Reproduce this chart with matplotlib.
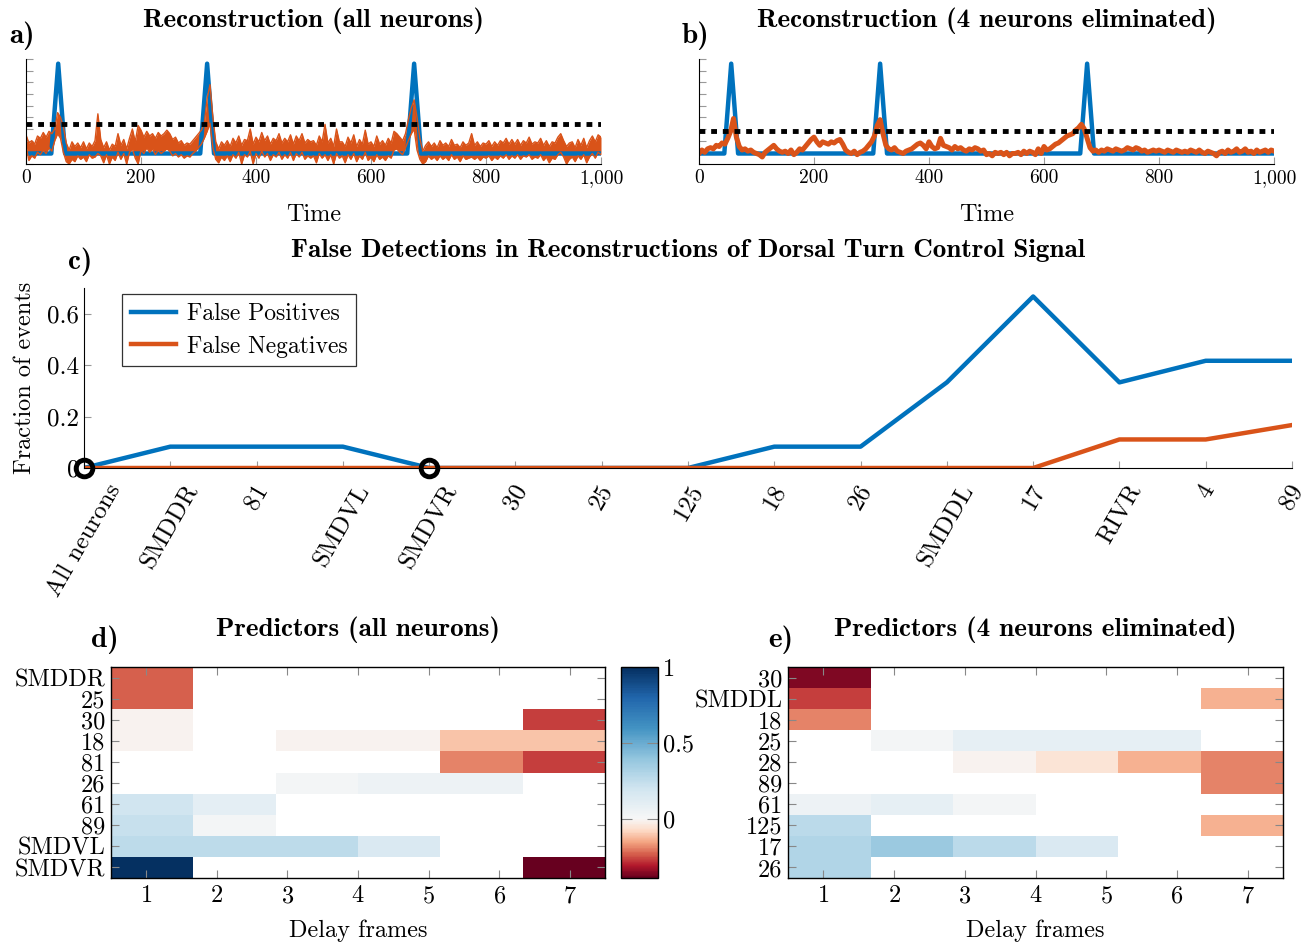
import numpy as np
import matplotlib.pyplot as plt
from matplotlib.colors import ListedColormap, Normalize
from matplotlib.ticker import FuncFormatter

plt.rcParams['font.family'] = ['cmr10', 'DejaVu Serif']
plt.rcParams['mathtext.fontset'] = 'cm'
plt.rcParams['axes.formatter.use_mathtext'] = True

BLUE = '#0072bd'
ORANGE = '#d95319'
BOLD = ['cmb10', 'DejaVu Serif']

# ---------------- data ----------------
# reference (blue) signal: baseline with three events
ref_t = [0, 44, 56, 68, 303, 315, 327, 663, 675, 687, 1000]
ref_v = [0.9, 0.9, 8.6, 0.9, 0.9, 8.6, 0.9, 0.9, 8.6, 0.9, 0.9]
thr_all = 3.45
thr_elim = 2.8

# reconstruction with all neurons: upper / lower edge of the noisy trace,
# sampled every 5 time steps (read off the picture)
rec_all_hi = [
    2.5, 1.8, 2.0, 1.7, 2.4, 2.2, 2.7, 2.3, 2.8, 2.6,
    3.0, 4.4, 4.0, 3.2, 1.8, 1.2, 1.9, 1.5, 1.8, 1.4,
    1.9, 1.3, 1.8, 1.5, 2.0, 4.3, 2.1, 1.4, 1.9, 1.2,
    1.7, 1.5, 2.6, 1.6, 2.1, 1.3, 2.2, 3.0, 1.9, 3.3,
    2.9, 2.3, 2.8, 2.4, 2.6, 2.2, 2.7, 2.4, 2.6, 2.9,
    2.6, 2.1, 2.3, 1.8, 2.0, 1.6, 1.8, 1.7, 2.0, 2.3,
    2.6, 2.9, 3.5, 5.6, 6.8, 4.0, 1.9, 1.3, 1.9, 1.6,
    2.0, 1.5, 2.2, 1.8, 2.4, 1.6, 2.1, 2.0, 3.0, 1.7,
    2.3, 1.9, 2.7, 2.0, 2.4, 1.7, 2.2, 2.0, 2.6, 1.8,
    2.2, 1.9, 2.5, 1.7, 2.4, 2.0, 2.6, 1.8, 2.1, 1.9,
    2.0, 1.6, 2.4, 1.9, 3.4, 1.8, 2.2, 1.5, 3.0, 1.9,
    1.9, 1.5, 2.3, 1.8, 2.5, 1.5, 2.1, 1.7, 2.9, 1.7,
    1.9, 1.5, 2.4, 1.7, 2.0, 1.6, 2.2, 1.8, 2.8, 2.6,
    2.3, 2.0, 2.6, 3.8, 4.8, 5.5, 4.0, 2.2, 1.1, 1.6,
    1.9, 1.5, 1.8, 1.4, 2.0, 1.6, 1.8, 1.5, 2.1, 1.6,
    1.7, 1.4, 1.9, 1.6, 1.8, 2.6, 1.6, 1.9, 1.5, 1.8,
    1.7, 2.0, 1.5, 1.9, 1.6, 2.0, 1.8, 2.2, 1.7, 2.1,
    1.7, 2.1, 1.6, 2.0, 1.8, 2.3, 1.7, 1.9, 1.8, 2.2,
    1.6, 2.0, 1.5, 1.9, 1.8, 2.3, 2.6, 2.0, 1.5, 1.8,
    1.9, 1.4, 2.1, 1.6, 2.2, 1.4, 2.0, 2.4, 1.9, 2.5,
    2.3]
rec_all_lo = [
    1.6, 0.3, 0.7, 0.5, 1.0, 0.8, 1.2, 0.9, 1.4, 1.1,
    2.0, 2.6, 2.2, 1.0, 0.2, 0.0, 0.4, 0.2, 0.7, 0.4,
    0.6, 0.2, 0.8, 0.5, 0.6, 0.9, 0.7, 0.1, 0.8, 0.0,
    0.6, 0.3, 1.0, 0.4, 0.9, 0.0, 1.0, 1.3, 0.5, 0.0,
    1.2, 0.9, 1.4, 1.0, 1.3, 0.8, 1.2, 0.9, 1.1, 1.3,
    1.1, 0.7, 0.9, 0.6, 0.8, 0.5, 0.7, 0.6, 0.9, 1.1,
    1.4, 1.7, 2.2, 2.8, 3.5, 1.4, 0.4, 0.1, 0.6, 0.3,
    0.7, 0.2, 0.8, 0.5, 1.0, 0.0, 0.8, 0.6, 1.1, 0.0,
    0.9, 0.5, 1.1, 0.6, 0.9, 0.3, 0.8, 0.6, 1.0, 0.4,
    0.8, 0.5, 1.0, 0.3, 0.9, 0.6, 1.0, 0.4, 0.7, 0.5,
    0.7, 0.1, 0.9, 0.5, 0.8, 0.3, 0.8, 0.0, 0.9, 0.5,
    0.7, 0.1, 0.8, 0.4, 0.9, 0.2, 0.7, 0.4, 1.0, 0.3,
    0.6, 0.2, 0.8, 0.4, 0.6, 0.3, 0.7, 0.5, 1.2, 1.3,
    1.0, 0.8, 1.4, 2.0, 2.6, 3.0, 1.2, 0.4, 0.0, 0.2,
    0.7, 0.4, 0.6, 0.3, 0.7, 0.4, 0.6, 0.3, 0.8, 0.4,
    0.6, 0.2, 0.7, 0.4, 0.5, 0.6, 0.4, 0.6, 0.3, 0.6,
    0.5, 0.7, 0.3, 0.6, 0.4, 0.7, 0.5, 0.8, 0.4, 0.7,
    0.5, 0.8, 0.4, 0.7, 0.6, 0.8, 0.4, 0.6, 0.5, 0.8,
    0.3, 0.6, 0.1, 0.5, 0.4, 0.8, 1.0, 0.6, 0.0, 0.4,
    0.6, 0.2, 0.7, 0.4, 0.8, 0.1, 0.6, 0.9, 0.5, 1.0,
    0.8]
# reconstruction with 4 neurons eliminated (smoother), every 5 time steps
rec_elim = [
    0.9, 1.2, 1.0, 1.3, 1.4, 1.3, 1.6, 1.5, 1.8, 1.7,
    2.2, 2.8, 3.9, 2.3, 1.5, 1.2, 1.3, 1.1, 1.2, 1.0,
    0.9, 0.8, 0.6, 1.0, 1.2, 1.4, 1.6, 1.3, 1.1, 1.0,
    1.1, 0.9, 1.2, 0.8, 1.0, 1.3, 1.2, 1.5, 1.8, 2.1,
    2.3, 1.9, 1.6, 1.9, 1.8, 1.7, 1.9, 1.8, 2.0, 2.1,
    1.7, 1.2, 1.0, 0.9, 1.1, 0.8, 1.0, 1.1, 1.3, 1.6,
    1.9, 2.4, 3.3, 3.8, 2.6, 1.6, 1.3, 1.2, 1.4, 1.1,
    1.0, 0.9, 1.1, 1.2, 1.3, 1.5, 1.7, 1.8, 1.6, 1.3,
    1.9, 1.5, 1.3, 1.4, 2.2, 1.6, 1.5, 1.4, 1.2, 1.5,
    1.3, 1.4, 1.2, 1.1, 1.3, 1.2, 1.4, 1.3, 1.1, 1.2,
    0.8, 0.9, 0.7, 1.0, 0.9, 1.0, 0.8, 1.0, 0.7, 0.9,
    0.9, 1.0, 0.8, 1.1, 0.9, 1.1, 1.0, 0.8, 1.3, 0.9,
    1.5, 1.2, 1.3, 1.5, 1.7, 1.8, 2.0, 2.2, 2.4, 2.5,
    2.6, 2.9, 3.1, 3.4, 3.0, 2.2, 1.4, 1.1, 1.2, 1.0,
    1.2, 1.1, 1.3, 1.2, 1.1, 1.3, 1.2, 1.1, 1.2, 1.4,
    1.3, 1.2, 1.4, 1.3, 1.1, 1.2, 1.0, 1.1, 1.2, 1.1,
    1.2, 1.1, 1.0, 1.2, 1.1, 1.0, 1.2, 1.1, 1.0, 1.1,
    1.0, 1.2, 1.1, 1.0, 1.2, 1.0, 0.9, 1.1, 1.0, 0.9,
    0.7, 1.0, 1.1, 0.9, 1.2, 1.0, 1.1, 1.3, 1.0, 1.1,
    1.3, 1.0, 1.1, 0.9, 1.2, 1.0, 1.1, 1.2, 1.0, 1.2,
    1.1]
rec_t = np.arange(len(rec_elim)) * 5

# false detections
removed = ['All neurons', 'SMDDR', '81', 'SMDVL', 'SMDVR', '30', '25', '125',
           '18', '26', 'SMDDL', '17', 'RIVR', '4', '89']
false_pos = [0, 0.083, 0.083, 0.083, 0, 0, 0, 0, 0.083, 0.083, 0.333, 0.667,
             0.333, 0.417, 0.417]
false_neg = [0, 0, 0, 0, 0, 0, 0, 0, 0, 0, 0, 0, 0.111, 0.111, 0.167]
marked = [0, 4]

# predictor weights (rows = neurons, cols = delay bins)
rows_all = ['SMDDR', '25', '30', '18', '81', '26', '61', '89', 'SMDVL', 'SMDVR']
w_all = np.array([
    [-0.23, 0, 0, 0, 0, 0],
    [-0.23, 0, 0, 0, 0, 0],
    [-0.01, 0, 0, 0, 0, -0.27],
    [-0.01, 0, -0.01, -0.01, -0.11, -0.11],
    [0, 0, 0, 0, -0.19, -0.27],
    [0, 0, 0.02, 0.05, 0.05, 0],
    [0.2, 0.1, 0, 0, 0, 0],
    [0.23, 0.02, 0, 0, 0, 0],
    [0.26, 0.26, 0.26, 0.15, 0, 0],
    [1.0, 0, 0, 0, 0, -0.39],
])
rows_elim = ['30', 'SMDDL', '18', '25', '28', '89', '61', '125', '17', '26']
w_elim = np.array([
    [-0.36, 0, 0, 0, 0, 0],
    [-0.27, 0, 0, 0, 0, -0.14],
    [-0.19, 0, 0, 0, 0, 0],
    [0, 0.02, 0.09, 0.09, 0.09, 0],
    [0, 0, -0.01, -0.05, -0.14, -0.19],
    [0, 0, 0, 0, 0, -0.19],
    [0.05, 0.09, 0.02, 0, 0, 0],
    [0.27, 0, 0, 0, 0, -0.14],
    [0.3, 0.37, 0.27, 0.15, 0, 0],
    [0.3, 0, 0, 0, 0, 0],
])
delays = [1, 2, 3, 4, 5, 6, 7]
vmin, vmax = -0.39, 1.0

# ---------------- figure ----------------
W, H = 1315, 943
fig = plt.figure(figsize=(W / 100, H / 100), dpi=100)


def ax_px(l, t, r, b):
    return fig.add_axes([l / W, 1 - b / H, (r - l) / W, (b - t) / H])


def label(x, y, s, **kw):
    fig.text(x / W, 1 - y / H, s, **kw)


def style(ax):
    for side in ['top', 'right']:
        ax.spines[side].set_visible(False)
    ax.tick_params(direction='in', color='#999999', length=5, labelsize=14)


TITLE = dict(fontsize=19.5, family=BOLD, ha='center', va='center')
TAG = dict(fontsize=21, family=BOLD, ha='left', va='center')

# panels a, b
for i, (l, r, thr, title, tag) in enumerate([
        (26, 601, thr_all, 'Reconstruction (all neurons)', 'a)'),
        (699, 1274, thr_elim, 'Reconstruction (4 neurons eliminated)', 'b)')]):
    ax = ax_px(l, 59, r, 164)
    ax.plot(ref_t, ref_v, color=BLUE, lw=3.2)
    if i == 0:
        ax.fill_between(rec_t, rec_all_lo, rec_all_hi, color=ORANGE, lw=0)
        ax.plot(rec_t, rec_all_hi, color=ORANGE, lw=1.0)
        ax.plot(rec_t, rec_all_lo, color=ORANGE, lw=1.0)
    else:
        ax.plot(rec_t, rec_elim, color=ORANGE, lw=3.6)
    ax.axhline(thr, color='black', lw=3.5, ls=(0, (1.2, 1.2)))
    ax.set_xlim(0, 1000)
    ax.set_ylim(0, 9)
    ax.set_xticks([0, 200, 400, 600, 800, 1000])
    ax.xaxis.set_major_formatter(FuncFormatter(lambda v, p: f'{int(v):,}'))
    ax.set_yticks(range(10))
    ax.set_yticklabels([])
    style(ax)
    ax.set_xlabel('Time', fontsize=17.5, labelpad=12)
    label((l + r) / 2, 21, title, **TITLE)
    label(l - 17, 36, tag, **TAG)

# panel c
ax = ax_px(84, 288, 1292, 468)
x = np.arange(len(removed))
ax.plot(x, false_pos, color=BLUE, lw=3.2, label='False Positives')
ax.plot(x, false_neg, color=ORANGE, lw=3.2, label='False Negatives')
ax.plot(x[marked], [0] * len(marked), 'o', ms=12, mfc='none', mec='black',
        mew=3.5, clip_on=False, zorder=5)
ax.set_xlim(0, 14)
ax.set_ylim(0, 0.7)
ax.set_yticks([0, 0.2, 0.4, 0.6])
ax.set_yticklabels(['0', '0.2', '0.4', '0.6'])
ax.set_xticks(x)
ax.set_xticklabels(removed, rotation=60, ha='center', va='top')
style(ax)
ax.tick_params(labelsize=18)
ax.tick_params(axis='x', pad=9)
ax.set_ylabel('Fraction of events', fontsize=17.5, labelpad=8)
leg = ax.legend(loc='upper left', bbox_to_anchor=(0.022, 1.03), fontsize=17,
                frameon=True, fancybox=False, edgecolor='black',
                handlelength=1.9, handletextpad=0.5, borderpad=0.35,
                labelspacing=0.45)
leg.get_frame().set_linewidth(0.9)
label(688, 250, 'False Detections in Reconstructions of Dorsal Turn Control Signal',
      **TITLE)
label(68, 262, 'c)', **TAG)

# colormap: RdBu with white at zero, red side compressed to [vmin, 0]
vals = np.linspace(vmin, vmax, 256)
pos = np.where(vals < 0, 0.5 + 0.5 * vals / -vmin, 0.5 + 0.5 * vals / vmax)
cmap = ListedColormap(plt.get_cmap('RdBu')(pos))
norm = Normalize(vmin, vmax)

# panels d, e
xe = np.linspace(0.5, 7.5, 7)
ye = np.arange(0.5, 11.0, 1.0)
mesh = None
for l, r, rows, w, title, tag in [
        (111, 605, rows_all, w_all, 'Predictors (all neurons)', 'd)'),
        (788, 1283, rows_elim, w_elim, 'Predictors (4 neurons eliminated)', 'e)')]:
    ax = ax_px(l, 667, r, 878)
    data = np.ma.masked_equal(w, 0)
    m = ax.pcolormesh(xe, ye, data, cmap=cmap, norm=norm)
    if mesh is None:
        mesh = m
    ax.set_xlim(0.5, 7.5)
    ax.set_ylim(10.5, 0.5)
    ax.set_xticks(delays)
    ax.set_yticks(range(1, 11))
    ax.set_yticklabels(rows)
    ax.tick_params(direction='in', color='#888888', length=6, labelsize=17.5,
                   top=True, right=True, pad=5)
    ax.tick_params(axis='y', pad=4)
    for s in ax.spines.values():
        s.set_linewidth(1.0)
    ax.set_xlabel('Delay frames', fontsize=17.5, labelpad=9)
    label((l + r) / 2, 630, title, **TITLE)
    label(l - 20, 640, tag, **TAG)

cax = ax_px(621, 667, 658, 878)
cb = fig.colorbar(mesh, cax=cax, ticks=[0, 0.5, 1])
cb.ax.set_yticklabels(['0', '0.5', '1'])
cb.ax.tick_params(direction='in', color='#888888', length=8, labelsize=17.5,
                  left=True, right=True)
cb.outline.set_linewidth(1.0)

fig.savefig('out.png', dpi=100)
